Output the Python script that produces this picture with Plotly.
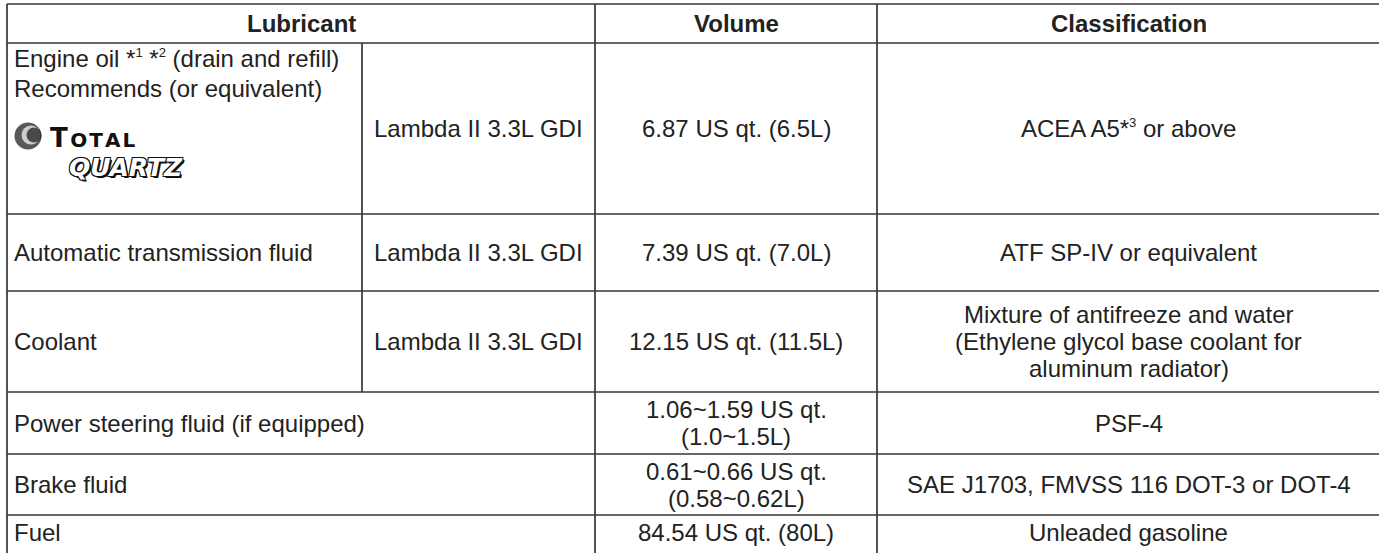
import numpy as np
import plotly.graph_objects as go

# ---------------- data ----------------
headers = ["Lubricant", "Volume", "Classification"]
SUP = "<sup><span style='font-size:13px'>{}</span></sup>"
lubricants = [
    "Engine oil *" + SUP.format(1) + " *" + SUP.format(2) + " (drain and refill)<br>Recommends (or equivalent)",
    "Automatic transmission fluid",
    "Coolant",
    "Power steering fluid (if equipped)",
    "Brake fluid",
    "Fuel",
]
engines = ["Lambda II 3.3L GDI", "Lambda II 3.3L GDI", "Lambda II 3.3L GDI", "", "", ""]
volumes = [
    "6.87 US qt. (6.5L)",
    "7.39 US qt. (7.0L)",
    "12.15 US qt. (11.5L)",
    "1.06~1.59 US qt.<br>(1.0~1.5L)",
    "0.61~0.66 US qt.<br>(0.58~0.62L)",
    "84.54 US qt. (80L)",
]
classifications = [
    "ACEA A5*" + SUP.format(3) + " or above",
    "ATF SP-IV or equivalent",
    "Mixture of antifreeze and water<br>(Ethylene glycol base coolant for<br>aluminum radiator)",
    "PSF-4",
    "SAE J1703, FMVSS 116 DOT-3 or DOT-4",
    "Unleaded gasoline",
]
logo_brand = "TOTAL"
logo_product = "QUARTZ"

# ---------------- layout constants ----------------
W, H = 1379, 553
X0, Y0 = 7, 4
col_widths = [355, 233, 282, 503]
row_heights = [39, 171, 77, 101, 62, 61, 41]
col_edges = X0 + np.concatenate([[0], np.cumsum(col_widths)])
row_edges = Y0 + np.concatenate([[0], np.cumsum(row_heights)])

FONT = "Liberation Sans, Arial, Helvetica, sans-serif"
FS = 24
TXT = "#222222"
LINE = "#363636"
LS = 27      # line spacing for wrapped cells
PAD = 5

fig = go.Figure()

# ---------------- grid lines ----------------
xs, ys = [], []
for r in row_edges[:-1]:
    xs += [col_edges[0], col_edges[-1], None]
    ys += [r, r, None]
n_rows = len(lubricants)
for i, c in enumerate(col_edges):
    if i == 1:
        n_eng = sum(1 for e in engines if e)
        top, bot = row_edges[1], row_edges[1 + n_eng]
    else:
        top, bot = row_edges[0], row_edges[-1]
    xs += [c, c, None]
    ys += [top, bot, None]
fig.add_trace(go.Scatter(x=xs, y=ys, mode="lines",
                         line=dict(color=LINE, width=1.7),
                         hoverinfo="skip", showlegend=False))

annotations = []


def add_text(text, x, y, xanchor="center", bold=False, spacing=LS, valign="middle", top=None):
    lines = text.split("<br>")
    n = len(lines)
    for k, ln in enumerate(lines):
        if valign == "top":
            yy = top + k * spacing
        else:
            yy = y + (k - (n - 1) / 2) * spacing
        annotations.append(dict(
            x=x, y=yy, xref="x", yref="y", text=f"<b>{ln}</b>" if bold else ln,
            showarrow=False, xanchor=xanchor, yanchor="middle",
            font=dict(family=FONT, size=FS, color=TXT)))


def cx(a, b):
    return (col_edges[a] + col_edges[b]) / 2


def cy(r):
    return (row_edges[r] + row_edges[r + 1]) / 2


add_text(headers[0], cx(0, 2), cy(0), bold=True)
add_text(headers[1], cx(2, 3), cy(0), bold=True)
add_text(headers[2], cx(3, 4), cy(0), bold=True)

for i in range(n_rows):
    r = i + 1
    if i == 0:
        add_text(lubricants[i], col_edges[0] + PAD, None, xanchor="left",
                 valign="top", top=row_edges[r] + 15, spacing=30)
    elif i == n_rows - 1:
        add_text(lubricants[i], col_edges[0] + PAD, row_edges[r] + 17, xanchor="left")
    else:
        add_text(lubricants[i], col_edges[0] + PAD, cy(r), xanchor="left")
    yy = row_edges[r] + 17 if i == n_rows - 1 else cy(r)
    if engines[i]:
        add_text(engines[i], cx(1, 2), yy)
    add_text(volumes[i], cx(2, 3), yy)
    add_text(classifications[i], cx(3, 4), yy)

# ---------------- logo (TOTAL QUARTZ) ----------------
lx, ly = col_edges[0], row_edges[1]
gx, gy = lx + 21, ly + 93
# globe: dark sphere with a white swoosh (crescent)
fig.add_trace(go.Scatter(x=[gx, gx + 3, gx + 6], y=[gy, gy - 1, gy - 1], mode="markers",
                         marker=dict(symbol="circle", size=[27, 19, 15],
                                     color=["#111111", "white", "#111111"],
                                     line=dict(width=0)),
                         hoverinfo="skip", showlegend=False))
gap = "\u200a"
annotations.append(dict(
    x=lx + 41, y=ly + 95, xref="x", yref="y",
    text=f"<b>{logo_brand[0]}{gap}<span style='font-size:20px'>{gap.join(logo_brand[1:])}</span></b>",
    showarrow=False, xanchor="left", yanchor="middle",
    font=dict(family="DejaVu Sans, sans-serif", size=26, color="#111111")))
annotations.append(dict(
    x=lx + 119, y=ly + 124, xref="x", yref="y",
    text=f"<b><i>{logo_product}</i></b>",
    showarrow=False, xanchor="center", yanchor="middle",
    font=dict(family="DejaVu Sans, sans-serif", size=25, color="white",
              shadow="1px 1px 0 #111, -1px -1px 0 #111, 1px -1px 0 #111, -1px 1px 0 #111, 2px 2px 0 #111")))

fig.update_layout(
    width=W, height=H,
    margin=dict(l=0, r=0, t=0, b=0),
    paper_bgcolor="white", plot_bgcolor="white",
    xaxis=dict(range=[0, W], visible=False, fixedrange=True),
    yaxis=dict(range=[H, 0], visible=False, fixedrange=True),
    annotations=annotations,
    showlegend=False,
)

fig.write_html("out.html", config={"displayModeBar": False},
               post_script="document.body.style.margin='0';document.body.style.overflow='hidden';")
